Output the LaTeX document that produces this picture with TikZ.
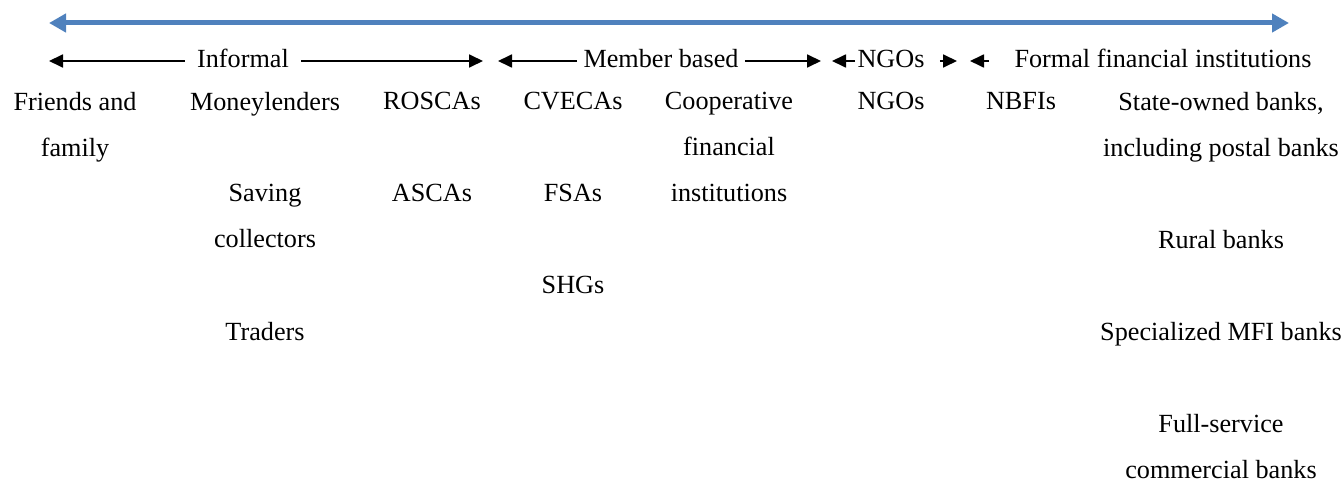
\documentclass[tikz,border=0pt]{standalone}
\usepackage{fontspec}
\setmainfont{Liberation Serif}
\usepackage{xcolor}
\usepackage{tikz}
\usetikzlibrary{arrows.meta}
\definecolor{scaleblue}{HTML}{4F81BD}

\begin{document}
\begin{tikzpicture}[x=0.5pt, y=-0.5pt,
    item/.style={anchor=north, inner sep=0pt, align=center, font=\fontsize{13.1}{23}\selectfont},
    group/.style={inner ysep=0pt, text height=9pt, text depth=2.5pt, font=\fontsize{13.1}{15}\selectfont},
    grouparrow/.style={line width=0.9pt, -{Triangle[length=7pt, width=6.5pt]}}]
    \useasboundingbox (0,0) rectangle (1342,481);

    % formality scale
    \coordinate (blueL) at (49,23);
    \coordinate (blueR) at (1289,23);
    \draw[line width=2.5pt, scaleblue, {Triangle[length=8.5pt, width=9pt]}-{Triangle[length=8.5pt, width=9pt]}] (blueL) -- (blueR);

    % groups
    \node[group, inner xsep=6pt] (informal) at (243,61) {Informal};
    \node[group, inner xsep=3pt] (member) at (661,61) {Member based};
    \node[group, inner xsep=1pt] (ngos) at (891,61) {NGOs};
    \node[group, inner xsep=12.5pt] (formal) at (1163,61) {Formal financial institutions};
    \coordinate (infL) at (49,61);
    \coordinate (infR) at (483,61);
    \coordinate (memL) at (498,61);
    \coordinate (memR) at (821,61);
    \coordinate (ngoL) at (832,61);
    \coordinate (ngoR) at (957,61);
    \coordinate (forL) at (970,61);
    \draw[grouparrow] (informal.west) -- (infL);
    \draw[grouparrow] (informal.east) -- (infR);
    \draw[grouparrow] (member.west) -- (memL);
    \draw[grouparrow] (member.east) -- (memR);
    \draw[grouparrow] (ngos.west) -- (ngoL);
    \draw[grouparrow, shorten <=6.5pt] (ngos.east) -- (ngoR);
    \draw[grouparrow] (formal.west) -- (forL);

    % providers
    \node[item] (family) at (75,92.1) {Friends and\\family};
    \node[item] (lenders) at (265,92.1) {Moneylenders};
    \node[item] (savers) at (265,184.1) {Saving\\collectors};
    \node[item] (traders) at (265,322.1) {Traders};
    \node[item] (roscas) at (432,92.1) {ROSCAs};
    \node[item] (ascas) at (432,184.1) {ASCAs};
    \node[item] (cvecas) at (573,92.1) {CVECAs};
    \node[item] (fsas) at (573,184.1) {FSAs};
    \node[item] (shgs) at (573,276.1) {SHGs};
    \node[item] (coops) at (729,92.1) {Cooperative\\financial\\institutions};
    \node[item] (ngoitem) at (891,92.1) {NGOs};
    \node[item] (nbfis) at (1021,92.1) {NBFIs};
    \node[item] (statebanks) at (1221,92.1) {State-owned banks,\\including postal banks};
    \node[item] (rural) at (1221,230.1) {Rural banks};
    \node[item] (mfibanks) at (1221,322.1) {Specialized MFI banks};
    \node[item] (fullbanks) at (1221,414.1) {Full-service\\commercial banks};
\end{tikzpicture}
\end{document}
